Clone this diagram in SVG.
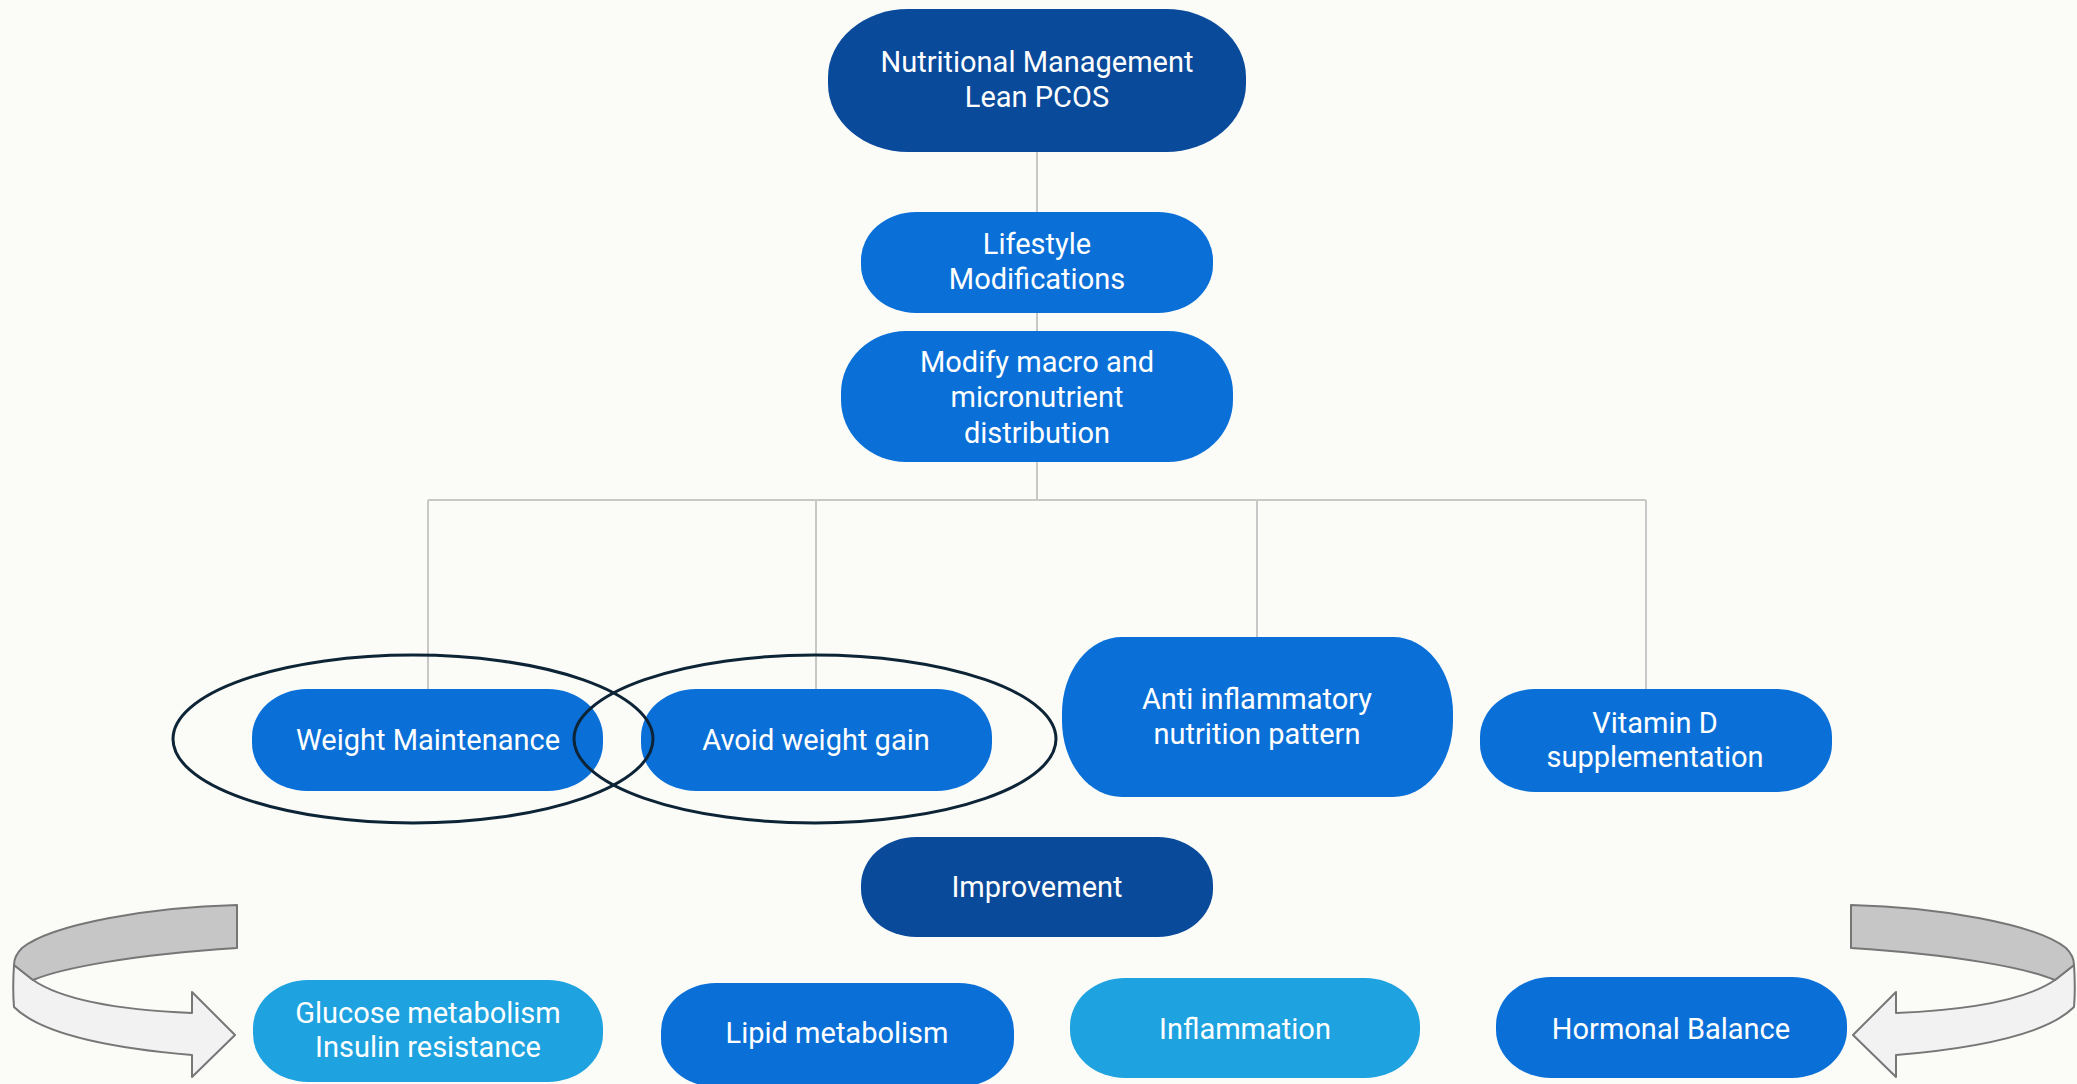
<svg xmlns="http://www.w3.org/2000/svg" width="2077" height="1084" viewBox="0 0 2077 1084">
<style>
.t{font-family:Roboto,"Liberation Sans",sans-serif;font-size:29px;fill:#ffffff;text-anchor:middle}
.dk{fill:#0a4a9b}
.md{fill:#0a70d8}
.lt{fill:#1ea3e0}
.cn{stroke:#c8c8c8;stroke-width:2;fill:none}
.ring{fill:none;stroke:#0d2436;stroke-width:3}
.arrBack{fill:#c6c6c6;stroke:#767676;stroke-width:2;stroke-linejoin:round}
.arrFront{fill:#f2f2f2;stroke:#767676;stroke-width:2;stroke-linejoin:round}
</style>
<defs>
<g id="curl">
<path class="arrFront" d="M33,980 L14,965 C13,980 13,995 14,1007 C35,1028 85,1046 192,1055 L192,1077 L235,1035 L192,992 L192,1013 C120,1010 62,1000 33,980 Z"/>
<path class="arrBack" d="M237,905 C150,907 52,924 22,948 C16,954 14,960 14,965 L33,980 C62,968 130,955 237,948 Z"/>
</g>
</defs>
<rect width="2077" height="1084" fill="#fbfbf8"/>
<g id="connectors">
<line class="cn" x1="1037" y1="152" x2="1037" y2="212"/>
<line class="cn" x1="1037" y1="313" x2="1037" y2="331"/>
<line class="cn" x1="1037" y1="462" x2="1037" y2="500"/>
<line class="cn" x1="428" y1="500" x2="1646" y2="500"/>
<line class="cn" x1="428" y1="500" x2="428" y2="689"/>
<line class="cn" x1="816" y1="500" x2="816" y2="689"/>
<line class="cn" x1="1257" y1="500" x2="1257" y2="637"/>
<line class="cn" x1="1646" y1="500" x2="1646" y2="689"/>
</g>
<g id="n-top"><rect class="dk" x="828" y="9" width="418" height="143" rx="80" ry="68"/><text class="t" x="1037" y="72">Nutritional Management</text><text class="t" x="1037" y="107">Lean PCOS</text></g>
<g id="n-lifestyle"><rect class="md" x="861" y="212" width="352" height="101" rx="55" ry="48"/><text class="t" x="1037" y="254">Lifestyle</text><text class="t" x="1037" y="289">Modifications</text></g>
<g id="n-modify"><rect class="md" x="841" y="331" width="392" height="131" rx="65" ry="62"/><text class="t" x="1037" y="372">Modify macro and</text><text class="t" x="1037" y="407">micronutrient</text><text class="t" x="1037" y="443">distribution</text></g>
<g id="n-weight"><rect class="md" x="252" y="689" width="351" height="102" rx="55" ry="48"/><text class="t" x="428" y="750">Weight Maintenance</text></g>
<g id="n-avoid"><rect class="md" x="641" y="689" width="351" height="102" rx="55" ry="48"/><text class="t" x="816" y="750">Avoid weight gain</text></g>
<g id="n-anti"><rect class="md" x="1062" y="637" width="391" height="160" rx="60" ry="76"/><text class="t" x="1257" y="709">Anti inflammatory</text><text class="t" x="1257" y="744">nutrition pattern</text></g>
<g id="n-vitd"><rect class="md" x="1480" y="689" width="352" height="103" rx="55" ry="48"/><text class="t" x="1655" y="733">Vitamin D</text><text class="t" x="1655" y="767">supplementation</text></g>
<g id="n-improve"><rect class="dk" x="861" y="837" width="352" height="100" rx="55" ry="48"/><text class="t" x="1037" y="897">Improvement</text></g>
<g id="n-glucose"><rect class="lt" x="253" y="980" width="350" height="102" rx="55" ry="48"/><text class="t" x="428" y="1023">Glucose metabolism</text><text class="t" x="428" y="1057">Insulin resistance</text></g>
<g id="n-lipid"><rect class="md" x="661" y="983" width="353" height="104" rx="55" ry="48"/><text class="t" x="837" y="1043">Lipid metabolism</text></g>
<g id="n-inflam"><rect class="lt" x="1070" y="978" width="350" height="100" rx="55" ry="48"/><text class="t" x="1245" y="1039">Inflammation</text></g>
<g id="n-hormonal"><rect class="md" x="1496" y="977" width="351" height="101" rx="55" ry="48"/><text class="t" x="1671" y="1039">Hormonal Balance</text></g>
<g id="highlights">
<ellipse class="ring" cx="413" cy="739" rx="240" ry="84"/>
<ellipse class="ring" cx="815" cy="739" rx="241" ry="84"/>
</g>
<g id="curl-arrows">
<use href="#curl"/>
<use href="#curl" transform="translate(2088,0) scale(-1,1)"/>
</g>
</svg>
